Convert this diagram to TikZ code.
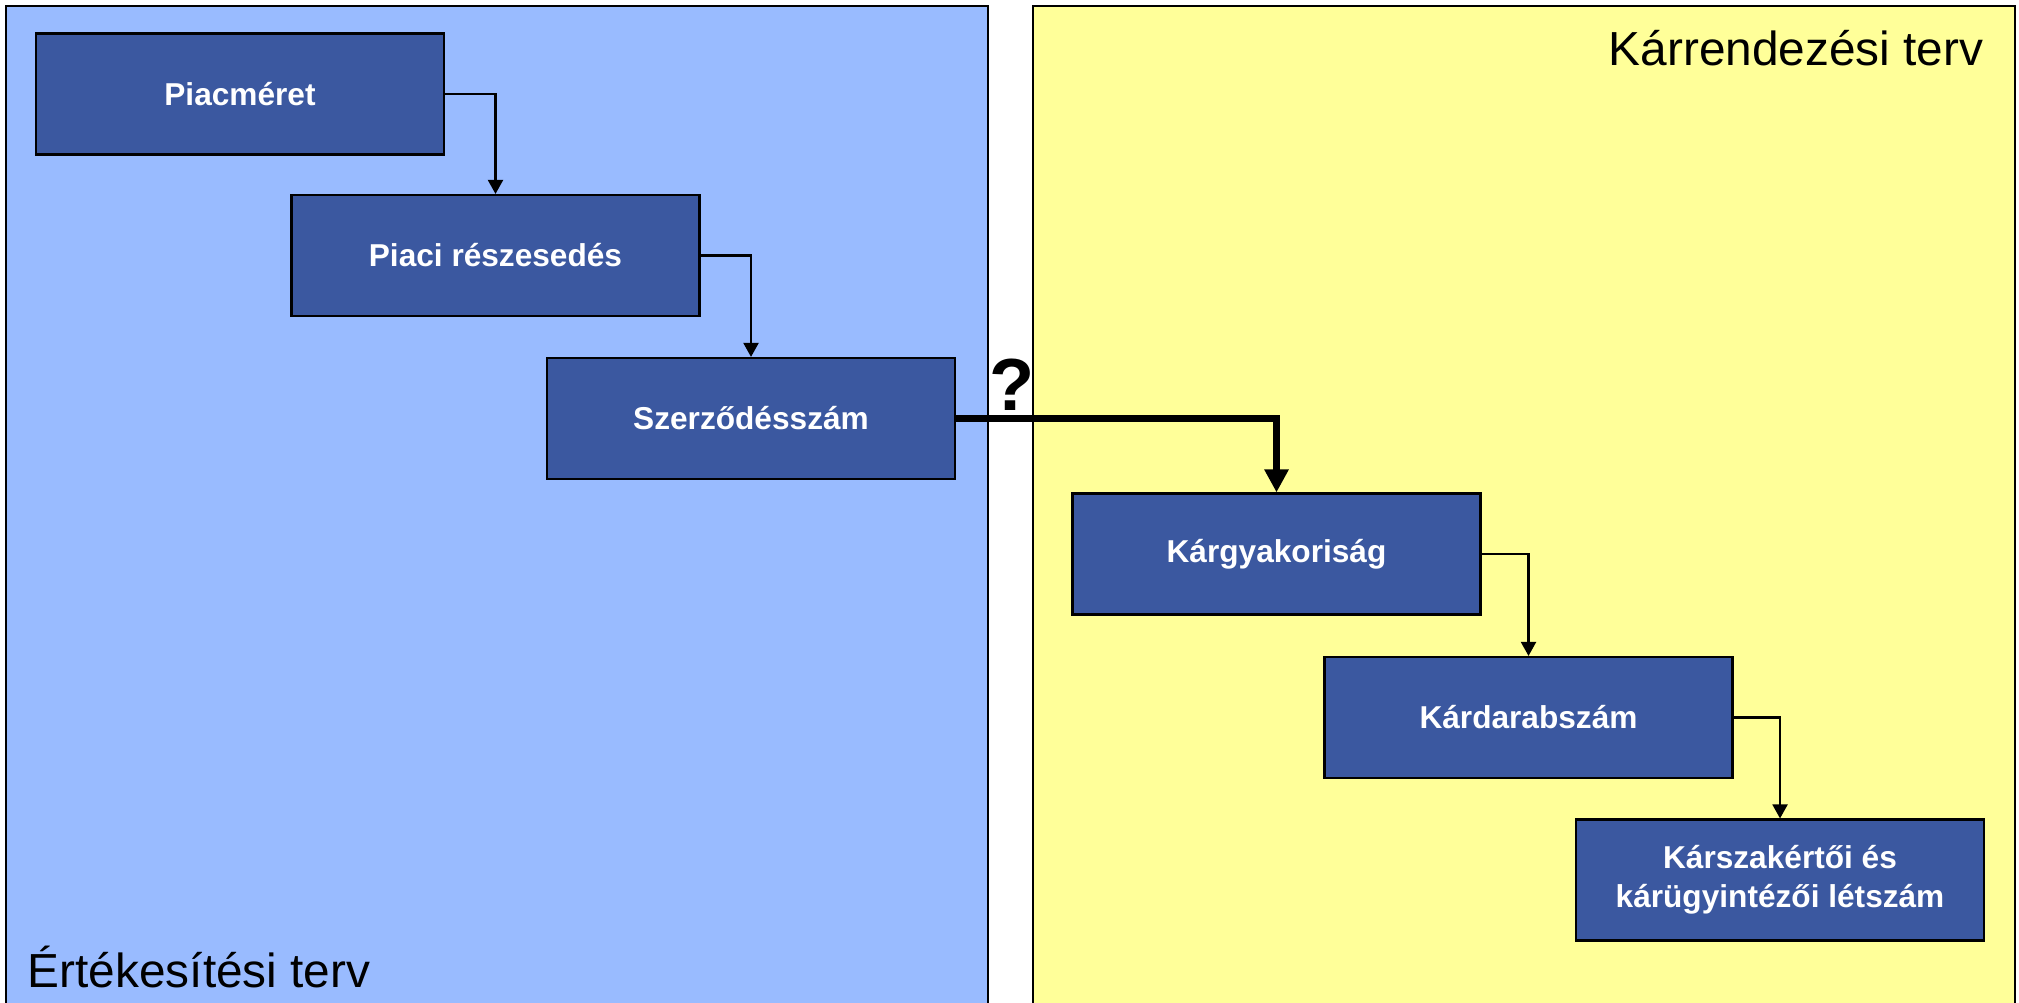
\documentclass[tikz,border=0pt]{standalone}
\usepackage{fontspec}
\setmainfont{Liberation Sans}
\usepackage{tikz}
\usetikzlibrary{arrows.meta}
\definecolor{tervkek}{RGB}{153,187,255}
\definecolor{tervsarga}{RGB}{255,255,153}
\definecolor{dobozkek}{RGB}{59,88,160}

\begin{document}
\begin{tikzpicture}[
    doboz/.style={draw=black, line width=0.6pt, fill=dobozkek, text=white,
        font=\fontsize{9}{11}\selectfont\bfseries, align=center,
        minimum width=4.08cm, minimum height=1.21cm, inner sep=0pt},
    nyil/.style={line width=0.6pt, -{Triangle[length=0.14cm,width=0.15cm]}},
    cimke/.style={font=\fontsize{13.6}{16}\selectfont, inner sep=0pt}]
    \useasboundingbox (0,0) rectangle (20.19,10.02);

    % --- háttér ---
    \draw[fill=tervkek, line width=0.6pt] (0.06,-0.3) rectangle (9.88,9.96);
    \draw[fill=tervsarga, line width=0.6pt] (10.33,-0.3) rectangle (20.15,9.96);

    \node[cimke, anchor=base east] (karrendezes) at (19.84,9.36) {Kárrendezési terv};
    \node[cimke, anchor=base west] (ertekesites) at (0.27,0.15) {Értékesítési terv};

    % --- Értékesítési terv ---
    \node[doboz] (piacmeret) at (2.40,9.08) {Piacméret};
    \node[doboz] (piaci) at (4.955,7.465) {Piaci részesedés};
    \node[doboz] (szerzodes) at (7.51,5.835) {Szerződésszám};

    \draw[nyil] (piacmeret.east) -| (piaci.north);
    \draw[nyil] (piaci.east) -| (szerzodes.north);

    % --- Kárrendezési terv ---
    \node[doboz] (kargyak) at (12.765,4.48) {Kárgyakoriság};
    \node[doboz] (kardarab) at (15.285,2.845) {Kárdarabszám};
    \node[doboz] (karszak) at (17.80,1.22) {Kárszakértői és\\kárügyintézői létszám};

    \draw[nyil] (kargyak.east) -| (kardarab.north);
    \draw[nyil] (kardarab.east) -| (karszak.north);

    % átmenet a két terv között
    \draw[line width=2pt, -{Triangle[length=0.23cm,width=0.23cm]}] (szerzodes.east) -| (kargyak.north);
    \node[font=\fontsize{21}{25}\selectfont\bfseries, inner sep=0pt] (kerdes) at (10.12,6.17) {?};
\end{tikzpicture}
\end{document}
